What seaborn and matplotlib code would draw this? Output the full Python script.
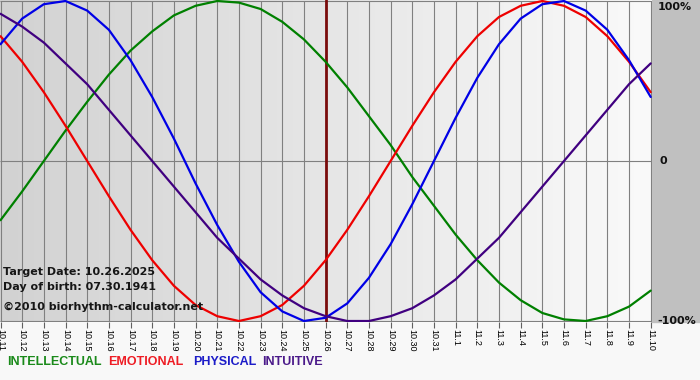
import numpy as np
import pandas as pd
import matplotlib
matplotlib.use("Agg")
import matplotlib.pyplot as plt
import seaborn as sns
from matplotlib.colors import LinearSegmentedColormap
from matplotlib.patches import Rectangle

# ---- data (-1..1 = -100%..100%) ----
dates = ["10.11", "10.12", "10.13", "10.14", "10.15", "10.16", "10.17", "10.18",
         "10.19", "10.20", "10.21", "10.22", "10.23", "10.24", "10.25", "10.26",
         "10.27", "10.28", "10.29", "10.30", "10.31", "11.1", "11.2", "11.3",
         "11.4", "11.5", "11.6", "11.7", "11.8", "11.9", "11.10"]
intellectual = [-0.37, -0.19, 0.00, 0.19, 0.37, 0.54, 0.69, 0.81, 0.91, 0.97, 1.00,
                0.99, 0.95, 0.87, 0.76, 0.62, 0.46, 0.28, 0.10, -0.10, -0.28, -0.46,
                -0.62, -0.76, -0.87, -0.95, -0.99, -1.00, -0.97, -0.91, -0.81]
emotional = [0.78, 0.62, 0.43, 0.22, 0.00, -0.22, -0.43, -0.62, -0.78, -0.90, -0.97,
             -1.00, -0.97, -0.90, -0.78, -0.62, -0.43, -0.22, 0.00, 0.22, 0.43, 0.62,
             0.78, 0.90, 0.97, 1.00, 0.97, 0.90, 0.78, 0.62, 0.43]
physical = [0.73, 0.89, 0.98, 1.00, 0.94, 0.82, 0.63, 0.40, 0.14, -0.14, -0.40,
            -0.63, -0.82, -0.94, -1.00, -0.98, -0.89, -0.73, -0.52, -0.27, 0.00, 0.27,
            0.52, 0.73, 0.89, 0.98, 1.00, 0.94, 0.82, 0.63, 0.40]
intuitive = [0.92, 0.84, 0.74, 0.61, 0.48, 0.32, 0.16, 0.00, -0.16, -0.32, -0.48,
             -0.61, -0.74, -0.84, -0.92, -0.97, -1.00, -1.00, -0.97, -0.92, -0.84, -0.74,
             -0.61, -0.48, -0.32, -0.16, 0.00, 0.16, 0.32, 0.48, 0.61]
series_names = ["INTELLECTUAL", "EMOTIONAL", "PHYSICAL", "INTUITIVE"]
target_label = "10.26"
info_lines = ["Target Date: 10.26.2025", "Day of birth: 07.30.1941",
              "\u00a92010 biorhythm-calculator.net"]
y_labels = ["100%", "0", "-100%"]

line_colors = {"INTELLECTUAL": "#008000", "EMOTIONAL": "#ee0000",
               "PHYSICAL": "#0000e6", "INTUITIVE": "#400080"}
legend_colors = {"INTELLECTUAL": "#1a8a1a", "EMOTIONAL": "#ee1c24",
                 "PHYSICAL": "#1c1cc8", "INTUITIVE": "#4b1a8a"}

days = np.arange(len(dates))
df = pd.DataFrame({
    "day": np.tile(days, 4),
    "value": intellectual + emotional + physical + intuitive,
    "series": np.repeat(series_names, len(dates)),
})

sns.set_theme(style="white")
plt.rcParams['font.family'] = ['DejaVu Sans']

W, H = 700, 380
fig = plt.figure(figsize=(W / 100, H / 100), dpi=100)


def fx(x):
    return x / W


def fy(y):
    return 1 - y / H


# ---- background ----
bg = fig.add_axes([0, 0, 1, 1], zorder=0)
bg.add_patch(Rectangle((0, 0), W, H, color="#f8f8f8"))
bg.add_patch(Rectangle((652, 0), 48, 322, color="#c0c0c0"))
grad = np.linspace(0, 1, 256).reshape(1, -1)
cmap_b = LinearSegmentedColormap.from_list("b", ["#f2f2f2", "#c0c0c0"])
bg.imshow(grad, extent=[0, W, 370, 321], cmap=cmap_b, aspect="auto")
bg.set_xlim(0, W)
bg.set_ylim(H, 0)
bg.axis("off")

# ---- main plot ----
ax = fig.add_axes([0, fy(322), 652 / W, 322 / H], zorder=1)
ax.patch.set_visible(False)
scale_x = 650.2 / 30.0
xlo = -0.5 / scale_x
xhi = 30 + (652 - 650.7) / scale_x
ylo, yhi = -1 - 1 / 160, 1 + 1 / 160
cmap_p = LinearSegmentedColormap.from_list("p", ["#d2d2d2", "#fafafa"])
ax.imshow(grad, extent=[xlo, xhi, ylo, yhi], cmap=cmap_p, aspect="auto", zorder=0)

ax.vlines(days, -1, 1, color="#808080", lw=0.8, zorder=1)
ax.hlines([-1, 0, 1], xlo, xhi, color="#808080", lw=0.8, zorder=1)
ax.axvline(dates.index(target_label), color="#7a0c0c", lw=2.0, zorder=2)

sns.lineplot(data=df, x="day", y="value", hue="series", hue_order=series_names,
             palette=line_colors, legend=False, lw=1.6, ax=ax, zorder=3)

ax.set_xlim(xlo, xhi)
ax.set_ylim(ylo, yhi)
ax.set_xlabel("")
ax.set_ylabel("")
ax.set_yticks([])
ax.set_xticks(days)
ax.set_xticklabels(dates, rotation=270, fontsize=6.5, family="Liberation Sans",
                   color="#000000")
ax.tick_params(axis="x", length=4, color="#606060", width=0.8, pad=1, bottom=True)
for s in ax.spines.values():
    s.set_visible(False)

# right percentage labels
fig.text(fx(658), fy(7), y_labels[0], fontsize=8, fontweight="bold", va="center",
         ha="left", color="#111111")
fig.text(fx(659), fy(161), y_labels[1], fontsize=8, fontweight="bold", va="center",
         ha="left", color="#111111")
fig.text(fx(657), fy(321), y_labels[2], fontsize=8, fontweight="bold", va="center",
         ha="left", color="#111111")

# info text
for txt, yc in zip(info_lines, [272, 287, 307]):
    fig.text(fx(3), fy(yc), txt, fontsize=8, fontweight="bold", va="center",
             ha="left", color="#161616", zorder=5)

# legend text
for name, x0 in zip(series_names, [7, 108, 193, 262]):
    fig.text(fx(x0), fy(362), name, fontsize=9, fontweight="bold",
             family="Liberation Sans", va="center", ha="left",
             color=legend_colors[name])

fig.savefig("out.png", dpi=100)
